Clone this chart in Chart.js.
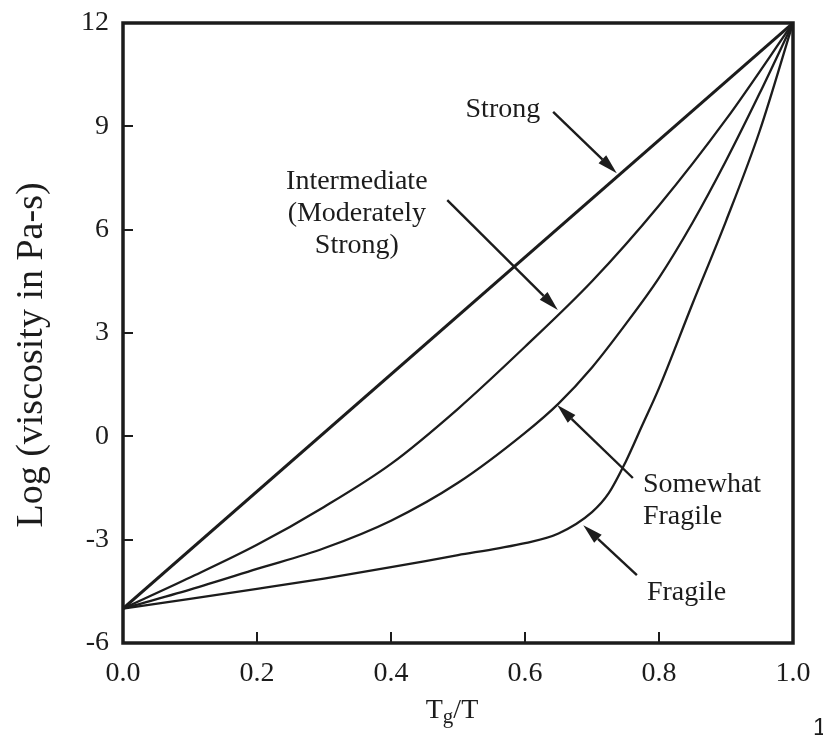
<!DOCTYPE html>
<html><head><meta charset="utf-8">
<script src="https://cdn.jsdelivr.net/npm/chart.js@4/dist/chart.umd.min.js"></script>
<style>html,body{margin:0;padding:0;background:#fff;} canvas{display:block;}</style>
</head><body>
<canvas id="c" width="823" height="735"></canvas>
<script>
// ---- data ----
const xTickValues = [0, 0.2, 0.4, 0.6, 0.8, 1.0];
const yTickValues = [-6, -3, 0, 3, 6, 9, 12];
const seriesNames = ['Strong', 'Intermediate (Moderately Strong)', 'Somewhat Fragile', 'Fragile'];
const strongX = [0, 1.0];
const strongY = [-5, 12];
const interX = [0, 0.1, 0.2, 0.3, 0.4, 0.5, 0.6, 0.7, 0.8, 0.9, 1.0];
const interY = [-5, -4.1, -3.15, -2.05, -0.8, 0.8, 2.6, 4.5, 6.7, 9.2, 12];
const someX = [0, 0.1, 0.2, 0.3, 0.4, 0.5, 0.6, 0.65, 0.7, 0.75, 0.8, 0.85, 0.9, 0.95, 1.0];
const someY = [-5, -4.45, -3.85, -3.25, -2.45, -1.35, 0.1, 0.95, 2.0, 3.25, 4.6, 6.2, 8.0, 9.95, 12];
const fragX = [0, 0.1, 0.2, 0.3, 0.4, 0.5, 0.56, 0.6, 0.65, 0.7, 0.725, 0.75, 0.775, 0.8, 0.85, 0.9, 0.95, 1.0];
const fragY = [-5, -4.72, -4.43, -4.13, -3.8, -3.45, -3.25, -3.1, -2.82, -2.2, -1.65, -0.75, 0.32, 1.4, 3.85, 6.25, 8.85, 12];

// annotation labels (data coordinates) and arrows (tail -> tip)
const labels = [
  {lines: ['Strong'], x: 0.567, y: 9.27, align: 'center'},
  {lines: ['Intermediate', '(Moderately', 'Strong)'], x: 0.349, y: 7.18, align: 'center'},
  {lines: ['Somewhat', 'Fragile'], x: 0.776, y: -1.62, align: 'left'},
  {lines: ['Fragile'], x: 0.782, y: -4.75, align: 'left'}
];
const arrows = [
  {x0: 0.642, y0: 9.42, x1: 0.737, y1: 7.64},
  {x0: 0.484, y0: 6.86, x1: 0.649, y1: 3.67},
  {x0: 0.761, y0: -1.21, x1: 0.648, y1: 0.91},
  {x0: 0.767, y0: -4.03, x1: 0.687, y1: -2.58}
];

const INK = '#1c1c1c';
const SERIF = '"Liberation Serif", "Times New Roman", serif';
const toPts = (xs, ys) => xs.map((x, i) => ({x: x, y: ys[i]}));

function ds(name, xs, ys, w) {
  return {
    label: name, data: toPts(xs, ys), showLine: true,
    borderColor: INK, borderWidth: w, pointRadius: 0,
    cubicInterpolationMode: 'monotone', fill: false
  };
}

const decor = {
  id: 'decor',
  afterDatasetsDraw(chart) {
    const ctx = chart.ctx, a = chart.chartArea;
    const xs = chart.scales.x, ys = chart.scales.y;
    ctx.save();
    ctx.strokeStyle = INK;
    // inner tick marks
    ctx.lineWidth = 2;
    ctx.beginPath();
    yTickValues.forEach(v => {
      if (v === -6 || v === 12) return;
      const py = Math.round(ys.getPixelForValue(v));
      ctx.moveTo(a.left, py); ctx.lineTo(a.left + 10, py);
    });
    xTickValues.forEach(v => {
      if (v === 0 || v === 1) return;
      const px = Math.round(xs.getPixelForValue(v));
      ctx.moveTo(px, a.bottom); ctx.lineTo(px, a.bottom - 11);
    });
    ctx.stroke();
    // frame
    ctx.lineWidth = 3.5;
    ctx.strokeRect(a.left, a.top, a.right - a.left, a.bottom - a.top);

    // arrows
    arrows.forEach(ar => {
      const x0 = xs.getPixelForValue(ar.x0), y0 = ys.getPixelForValue(ar.y0);
      const x1 = xs.getPixelForValue(ar.x1), y1 = ys.getPixelForValue(ar.y1);
      const ang = Math.atan2(y1 - y0, x1 - x0);
      const L = 20, W = 5.5;
      const bx = x1 - L * Math.cos(ang), by = y1 - L * Math.sin(ang);
      ctx.lineWidth = 2.4;
      ctx.beginPath(); ctx.moveTo(x0, y0); ctx.lineTo(bx, by); ctx.stroke();
      ctx.fillStyle = INK;
      ctx.beginPath();
      ctx.moveTo(x1, y1);
      ctx.lineTo(bx + W * Math.sin(ang), by - W * Math.cos(ang));
      ctx.lineTo(bx - W * Math.sin(ang), by + W * Math.cos(ang));
      ctx.closePath(); ctx.fill();
    });

    // labels
    ctx.fillStyle = INK;
    ctx.font = '28px ' + SERIF;
    ctx.textBaseline = 'alphabetic';
    labels.forEach(lb => {
      ctx.textAlign = lb.align;
      const px = xs.getPixelForValue(lb.x), py = ys.getPixelForValue(lb.y);
      lb.lines.forEach((t, i) => ctx.fillText(t, px, py + i * 32));
    });

    // y axis title
    ctx.save();
    ctx.translate(32, 355);
    ctx.rotate(-Math.PI / 2);
    ctx.textAlign = 'center';
    ctx.textBaseline = 'middle';
    ctx.font = '38px ' + SERIF;
    ctx.fillText('Log (viscosity in Pa-s)', 0, 0);
    ctx.restore();

    // x axis title T_g/T
    ctx.font = '28px ' + SERIF;
    const wT = ctx.measureText('T').width;
    const wS = ctx.measureText('/T').width;
    ctx.font = '21px ' + SERIF;
    const wg = ctx.measureText('g').width;
    const total = wT + wg + wS;
    let sx = 452 - total / 2;
    const base = 718;
    ctx.textAlign = 'left';
    ctx.font = '28px ' + SERIF;
    ctx.fillText('T', sx, base);
    ctx.font = '21px ' + SERIF;
    ctx.fillText('g', sx + wT, base + 5);
    ctx.font = '28px ' + SERIF;
    ctx.fillText('/T', sx + wT + wg, base);

    // stray page number
    ctx.font = '24px "Liberation Sans", Arial, sans-serif';
    ctx.fillText('1', 813, 735);
    ctx.restore();
  }
};

new Chart(document.getElementById('c'), {
  type: 'scatter',
  data: {
    datasets: [
      ds(seriesNames[0], strongX, strongY, 3),
      ds(seriesNames[1], interX, interY, 2.3),
      ds(seriesNames[2], someX, someY, 2.3),
      ds(seriesNames[3], fragX, fragY, 2.3)
    ]
  },
  options: {
    responsive: false,
    animation: false,
    devicePixelRatio: 1,
    layout: {padding: {top: 23, right: 30, left: 0, bottom: 0}},
    plugins: {legend: {display: false}, tooltip: {enabled: false}},
    scales: {
      x: {
        type: 'linear', min: 0, max: 1,
        afterBuildTicks: s => { s.ticks = xTickValues.map(v => ({value: v})); },
        afterFit: s => { s.height = 92; s.paddingLeft = 0; s.paddingRight = 0; },
        grid: {display: false, drawTicks: false},
        border: {display: false},
        ticks: {
          padding: 14, color: INK, maxRotation: 0,
          font: {family: SERIF, size: 28},
          callback: v => Number(v).toFixed(1)
        }
      },
      y: {
        type: 'linear', min: -6, max: 12,
        afterBuildTicks: s => { s.ticks = yTickValues.map(v => ({value: v})); },
        afterFit: s => { s.width = 123; s.paddingTop = 0; s.paddingBottom = 0; },
        grid: {display: false, drawTicks: false},
        border: {display: false},
        ticks: {
          padding: 14, color: INK,
          font: {family: SERIF, size: 28},
          callback: v => String(v)
        }
      }
    }
  },
  plugins: [decor]
});
</script>
</body></html>
